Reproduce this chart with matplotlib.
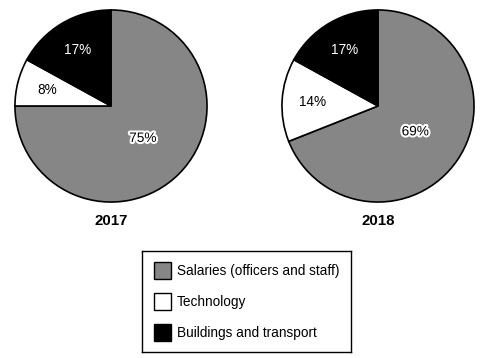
import matplotlib
matplotlib.use("Agg")
import matplotlib.pyplot as plt
import matplotlib.patheffects as pe
from matplotlib.patches import Rectangle
import numpy as np

plt.rcParams['font.family'] = ['Liberation Sans', 'DejaVu Sans']

categories = ["Salaries (officers and staff)", "Technology", "Buildings and transport"]
years = ["2017", "2018"]
values_2017 = [75, 8, 17]
values_2018 = [69, 14, 17]
colors = ["#868686", "#ffffff", "#000000"]
text_colors = ["black", "black", "white"]

W, H = 489, 358
fig = plt.figure(figsize=(W / 100, H / 100), dpi=100)

def px_axes(x0, y0, w, h):
    return fig.add_axes([x0 / W, 1 - (y0 + h) / H, w / W, h / H])

R = 97
centers = [(111, 106), (378, 106)]
for (cx, cy), year, vals in zip(centers, years, [values_2017, values_2018]):
    ax = px_axes(cx - R, cy - R, 2 * R, 2 * R)
    wedges, texts, autotexts = ax.pie(
        vals, colors=colors, startangle=90, counterclock=False,
        autopct="%d%%", pctdistance=0.68,
        wedgeprops=dict(edgecolor="black", linewidth=1.2),
        textprops=dict(fontsize=9.8))
    for i, (w, t) in enumerate(zip(wedges, autotexts)):
        t.set_color(text_colors[i])
        if i == 0:
            ang = np.deg2rad((w.theta1 + w.theta2) / 2)
            t.set_position((0.47 * np.cos(ang), 0.47 * np.sin(ang)))
            t.set_path_effects([pe.withStroke(linewidth=3, foreground="white")])
    ax.set_xlim(-1.01, 1.01)
    ax.set_ylim(-1.01, 1.01)
    ax.set_aspect("equal")
    fig.text(cx / W, 1 - 221 / H, year, ha="center", va="center",
             fontsize=10.8, fontweight="bold")

# legend box
lx, ly, lw, lh = 142, 251, 209, 101
lax = px_axes(lx, ly, lw, lh)
lax.set_xlim(0, lw)
lax.set_ylim(lh, 0)
lax.set_xticks([])
lax.set_yticks([])
for s in lax.spines.values():
    s.set_linewidth(1.0)
    s.set_color("black")
row_y = [19.7, 50.7, 81.7]
for label, c, y in zip(categories, colors, row_y):
    lax.add_patch(Rectangle((12, y - 8.5), 17, 17, facecolor=c,
                            edgecolor="black", linewidth=1.0))
    lax.text(35, y, label, va="center", ha="left", fontsize=9.8)

fig.savefig("out.png", dpi=100)
